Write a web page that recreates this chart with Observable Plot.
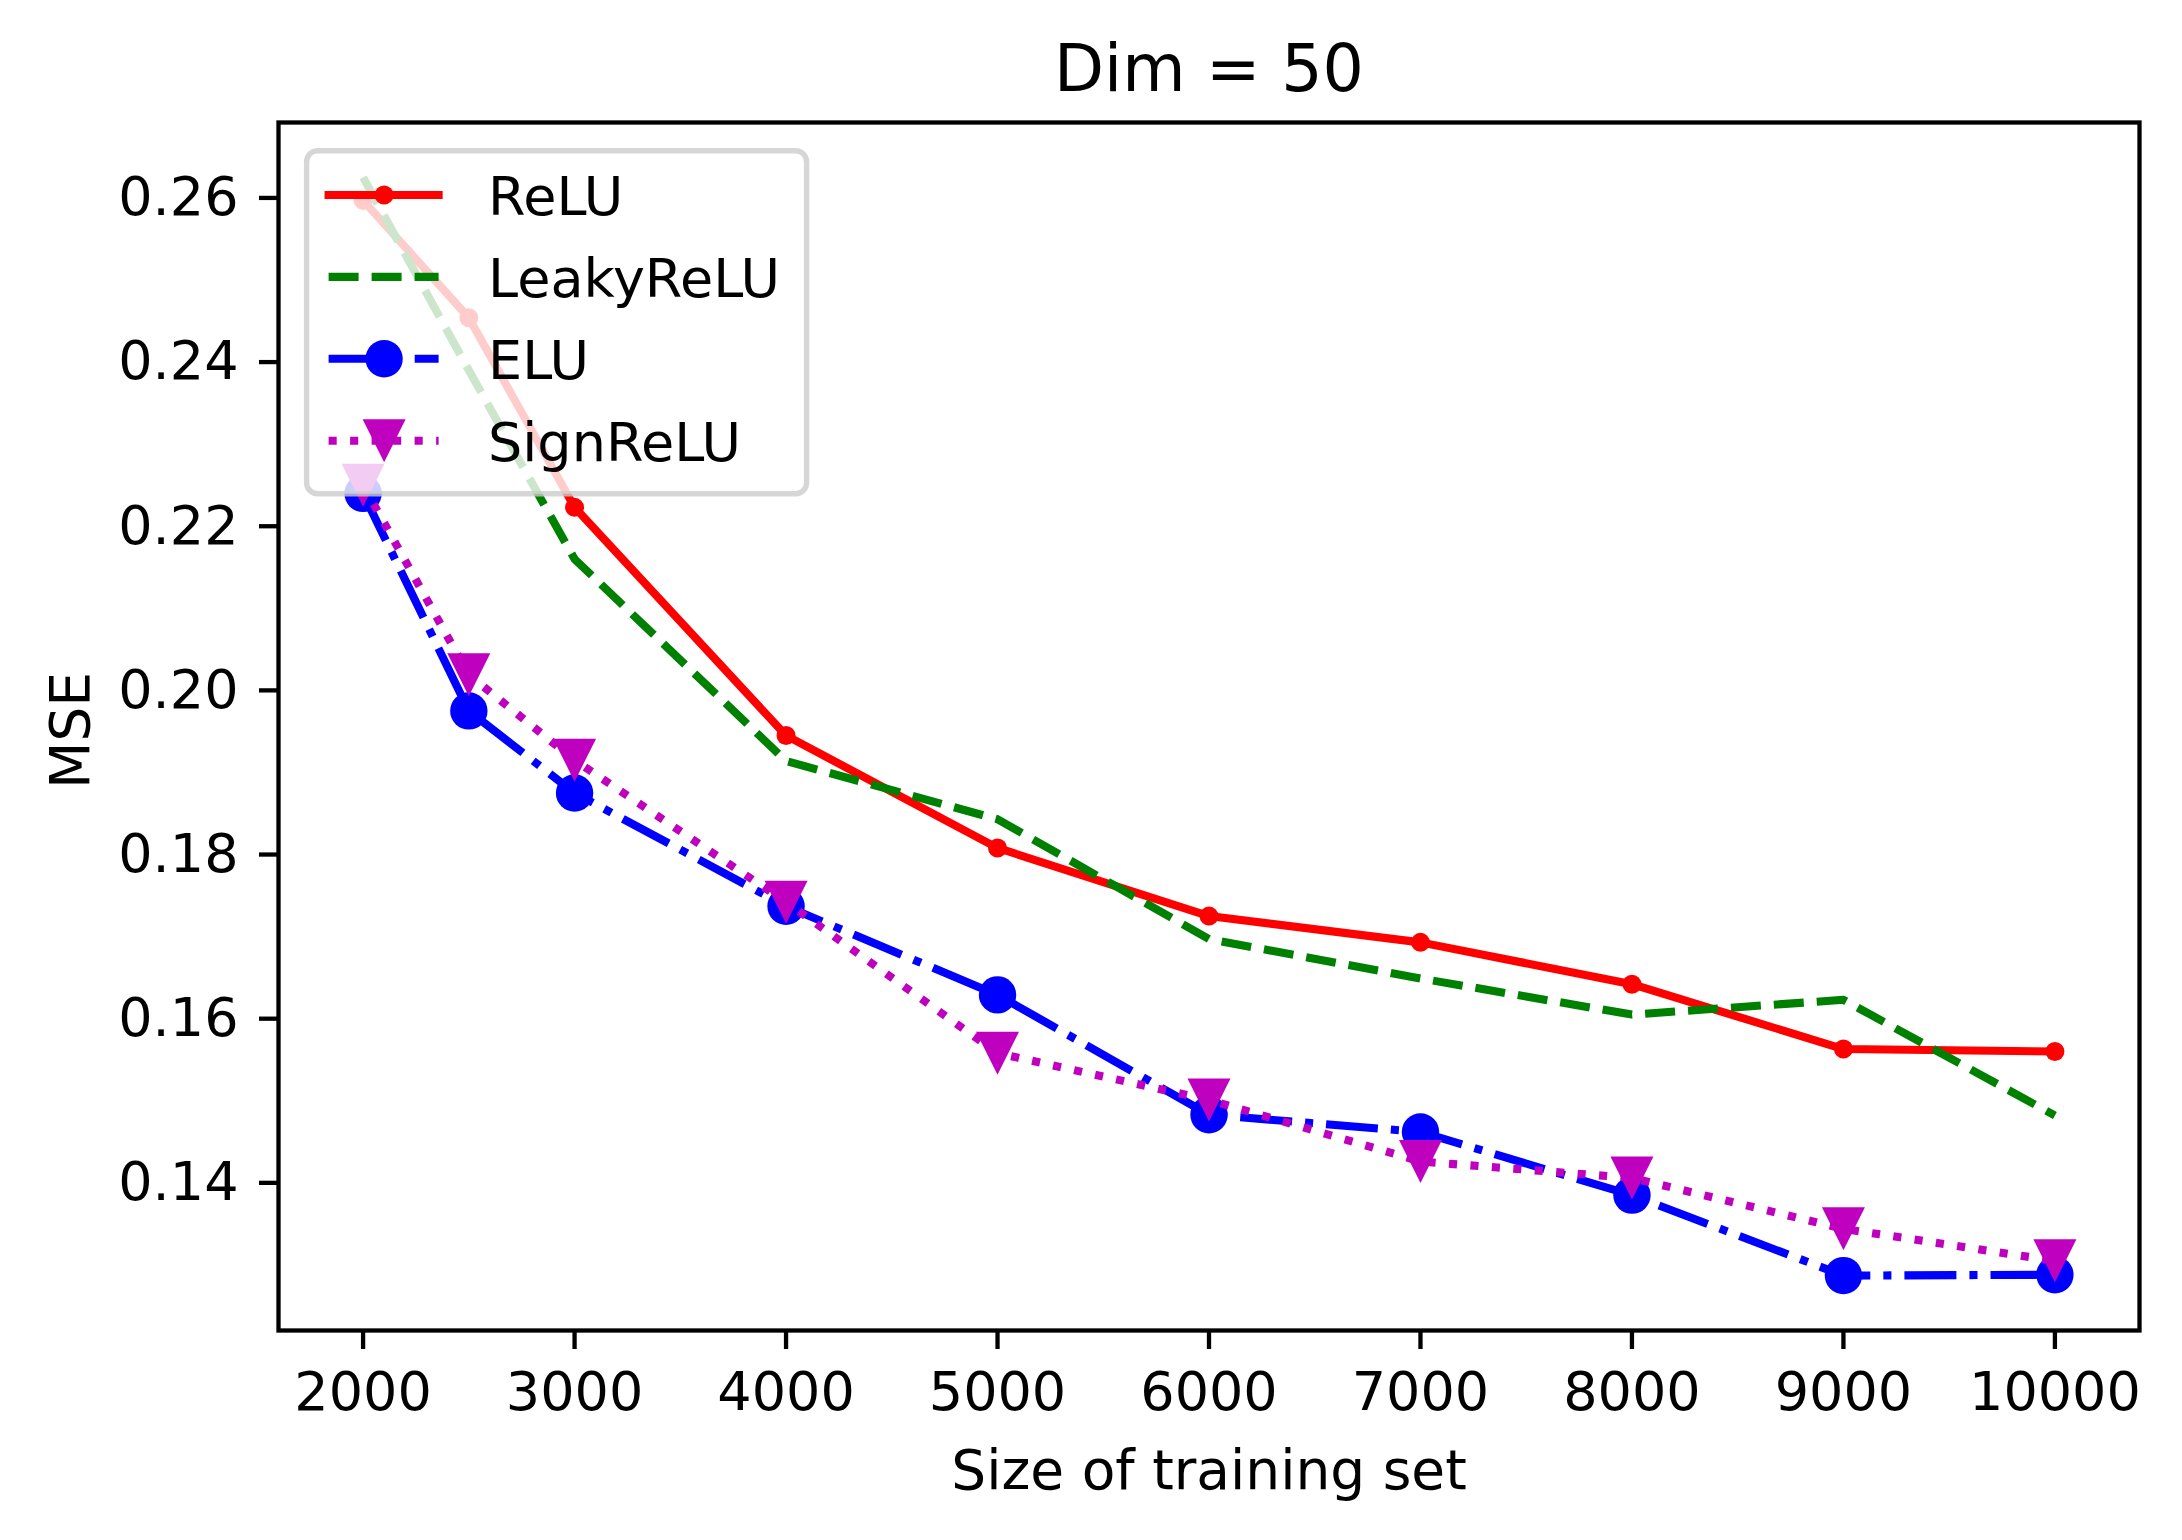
<!DOCTYPE html>
<html>
<head>
<meta charset="utf-8">
<script src="https://cdn.jsdelivr.net/npm/d3@7"></script>
<script src="https://cdn.jsdelivr.net/npm/@observablehq/plot@0.6"></script>
<style>
  html, body { margin: 0; padding: 0; background: white; overflow: hidden; }
  #chart svg { display: block; }
</style>
</head>
<body>
<div id="chart"></div>
<script>
// ---- data ----
const trainSizes = [2000, 2500, 3000, 4000, 5000, 6000, 7000, 8000, 9000, 10000];
const reluMSE     = [0.2597, 0.2454, 0.2223, 0.1945, 0.1808, 0.1725, 0.1693, 0.1642, 0.1563, 0.1560];
const leakyMSE    = [0.2625, 0.2390, 0.2160, 0.1914, 0.1843, 0.1697, 0.1649, 0.1605, 0.1623, 0.1482];
const eluMSE      = [0.2240, 0.1975, 0.1875, 0.1737, 0.1629, 0.1483, 0.1462, 0.1385, 0.1287, 0.1288];
const signReluMSE = [0.2250, 0.2019, 0.1915, 0.1742, 0.1558, 0.1501, 0.1426, 0.1406, 0.1344, 0.1305];
const seriesNames = ["ReLU", "LeakyReLU", "ELU", "SignReLU"];
const xTicks = [2000, 3000, 4000, 5000, 6000, 7000, 8000, 9000, 10000];
const yTicks = [0.14, 0.16, 0.18, 0.20, 0.22, 0.24, 0.26];
const titleText = "Dim = 50";
const xLabel = "Size of training set";
const yLabel = "MSE";

// ---- styles ----
const W = 2182, H = 1540;
const M = {top: 122, right: 43, bottom: 210, left: 278};
const FONT = "DejaVu Sans";
const LW = 8.1;
const triangleDown = {
  draw(ctx, size) {
    const s = Math.sqrt(size / Math.PI);
    ctx.moveTo(0, s);
    ctx.lineTo(-s, -s);
    ctx.lineTo(s, -s);
    ctx.closePath();
  }
};
const styles = {
  "ReLU":      {color: "#ff0000", dash: null,              cap: "square", symbol: "circle",     r: 9.5},
  "LeakyReLU": {color: "#008000", dash: "30,13",           cap: "butt",   symbol: null,         r: 0},
  "ELU":       {color: "#0000ff", dash: "52,13,8.1,13",    cap: "butt",   symbol: "circle",     r: 18.7},
  "SignReLU":  {color: "#bf00bf", dash: "8.1,13.4",        cap: "butt",   symbol: triangleDown, r: 21.5}
};

const valuesBySeries = [reluMSE, leakyMSE, eluMSE, signReluMSE];
const rows = [];
seriesNames.forEach((name, i) => {
  trainSizes.forEach((x, j) => rows.push({series: name, x, y: valuesBySeries[i][j]}));
});

// matplotlib-like 5% margins
const xExt = d3.extent(trainSizes);
const xPad = (xExt[1] - xExt[0]) * 0.05;
const yExt = d3.extent(rows, d => d.y);
const yPad = (yExt[1] - yExt[0]) * 0.05;

const marks = [];
seriesNames.forEach(name => {
  const st = styles[name];
  const data = rows.filter(d => d.series === name);
  marks.push(Plot.line(data, {
    x: "x", y: "y", stroke: st.color, strokeWidth: LW,
    strokeDasharray: st.dash, strokeLinecap: st.cap, strokeLinejoin: "round"
  }));
  if (st.symbol) {
    marks.push(Plot.dot(data, {
      x: "x", y: "y", r: st.r, symbol: st.symbol, fill: st.color, stroke: "none"
    }));
  }
});

marks.push(Plot.frame({stroke: "black", strokeWidth: 4.3}));
marks.push(Plot.axisX({ticks: xTicks, tickFormat: d3.format("d"), tickSize: 19, tickPadding: 22,
  fontSize: 54, strokeWidth: 4.3, label: null}));
marks.push(Plot.axisY({ticks: yTicks, tickFormat: d3.format(".2f"), tickSize: 19, tickPadding: 21,
  fontSize: 54, strokeWidth: 4.3, label: null}));
marks.push(Plot.text([titleText], {text: d => d, frameAnchor: "top", dy: -52, fontSize: 65,
  lineAnchor: "middle", textAnchor: "middle", fill: "black"}));
marks.push(Plot.text([xLabel], {text: d => d, frameAnchor: "bottom", dy: 141, fontSize: 55,
  lineAnchor: "middle", textAnchor: "middle", fill: "black"}));
marks.push(Plot.text([yLabel], {text: d => d, frameAnchor: "left", dx: -207, dy: 4, rotate: -90, fontSize: 55,
  lineAnchor: "middle", textAnchor: "middle", fill: "black"}));

const svg = Plot.plot({
  width: W, height: H,
  marginTop: M.top, marginRight: M.right, marginBottom: M.bottom, marginLeft: M.left,
  x: {domain: [xExt[0] - xPad, xExt[1] + xPad]},
  y: {domain: [yExt[0] - yPad, yExt[1] + yPad]},
  style: {fontFamily: FONT, fontSize: "54px", background: "white", color: "black", overflow: "visible"},
  marks
});

// ---- legend (upper left, inside axes, semi-transparent white box) ----
const lg = d3.select(svg).append("g").attr("font-family", FONT).attr("text-anchor", "start");
const bx = M.left + 28.6, by = M.top + 28.7;
lg.append("rect")
  .attr("x", bx).attr("y", by).attr("width", 500).attr("height", 343).attr("rx", 11)
  .attr("fill", "white").attr("fill-opacity", 0.8)
  .attr("stroke", "#cccccc").attr("stroke-opacity", 0.8).attr("stroke-width", 5.4);
seriesNames.forEach((name, i) => {
  const st = styles[name];
  const cy = by + 44.3 + i * 81.9;
  const x1 = bx + 22, x2 = bx + 132, xm = bx + 77.5;
  lg.append("line")
    .attr("x1", x1).attr("x2", x2).attr("y1", cy).attr("y2", cy)
    .attr("stroke", st.color).attr("stroke-width", LW)
    .attr("stroke-linecap", st.cap)
    .attr("stroke-dasharray", st.dash);
  if (st.symbol) {
    const sym = st.symbol === "circle" ? d3.symbolCircle : st.symbol;
    lg.append("path")
      .attr("transform", `translate(${xm},${cy})`)
      .attr("d", d3.symbol(sym, Math.PI * st.r * st.r)())
      .attr("fill", st.color);
  }
  lg.append("text")
    .attr("x", bx + 181.5).attr("y", cy + 20)
    .attr("text-anchor", "start")
    .attr("font-size", 54).attr("fill", "black")
    .text(name);
});

document.getElementById("chart").appendChild(svg);
</script>
</body>
</html>
